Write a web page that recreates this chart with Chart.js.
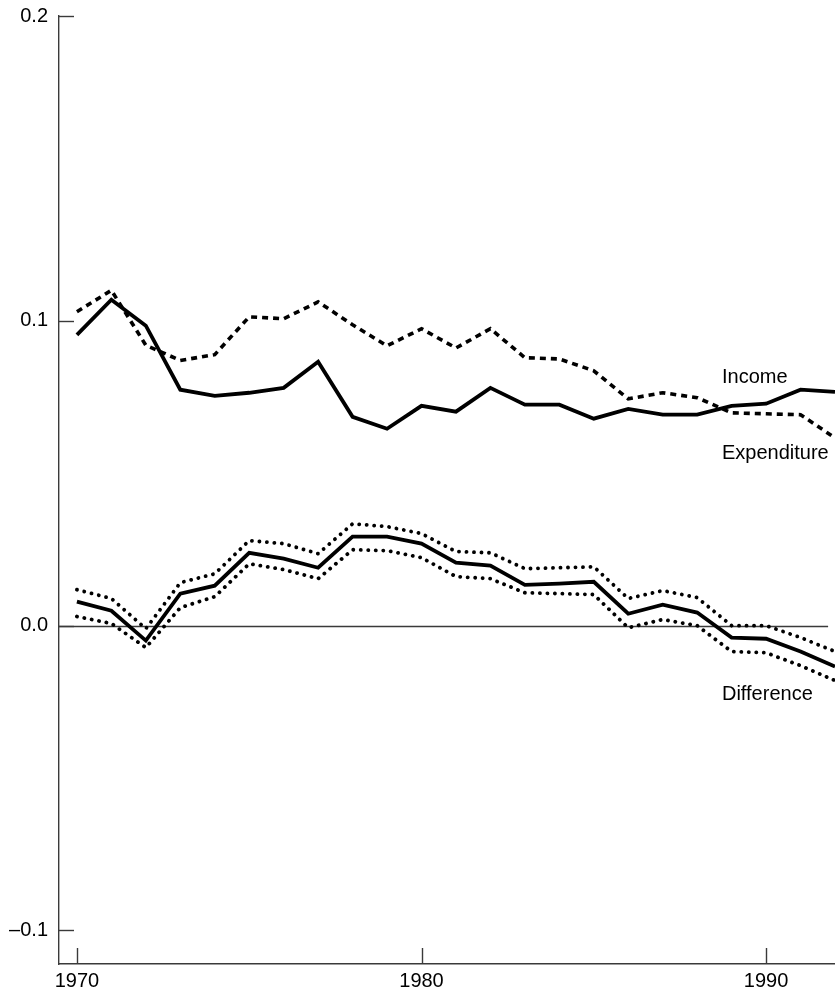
<!DOCTYPE html>
<html>
<head>
<meta charset="utf-8">
<title>Income and expenditure</title>
<script src="https://cdn.jsdelivr.net/npm/chart.js@4/dist/chart.umd.min.js"></script>
<style>
    html, body { margin: 0; padding: 0; background: #fff; }
    #wrap { width: 835px; height: 991px; }
</style>
</head>
<body>
<div id="wrap"><canvas id="chart"></canvas></div>
<script>
/**
 * Data
 */
const years = [1970, 1971, 1972, 1973, 1974, 1975, 1976, 1977, 1978, 1979, 1980,
    1981, 1982, 1983, 1984, 1985, 1986, 1987, 1988, 1989, 1990, 1991, 1992];

const income = [0.0954, 0.1069, 0.0984, 0.0774, 0.0754, 0.0764, 0.0780, 0.0866, 0.0685, 0.0646, 0.0721,
    0.0702, 0.0780, 0.0725, 0.0725, 0.0679, 0.0711, 0.0692, 0.0692, 0.0721, 0.0728, 0.0774, 0.0767];

const expenditure = [0.1030, 0.1100, 0.0920, 0.0870, 0.0889, 0.1013, 0.1007, 0.1062, 0.0987, 0.0918, 0.0974,
    0.0911, 0.0974, 0.0879, 0.0875, 0.0836, 0.0744, 0.0764, 0.0748, 0.0698, 0.0695, 0.0692, 0.0616];

const difference = [0.0079, 0.0049, -0.0049, 0.0105, 0.0131, 0.0239, 0.0220, 0.0190, 0.0292, 0.0292, 0.0269,
    0.0207, 0.0197, 0.0134, 0.0138, 0.0144, 0.0039, 0.0069, 0.0043, -0.0039, -0.0043, -0.0085, -0.0134];

const differenceUpper = [0.0118, 0.0089, -0.0010, 0.0141, 0.0170, 0.0279, 0.0269, 0.0236, 0.0334, 0.0325, 0.0302,
    0.0243, 0.0239, 0.0187, 0.0190, 0.0193, 0.0089, 0.0115, 0.0092, 0.0000, 0.0000, -0.0039, -0.0085];

const differenceLower = [0.0030, 0.0007, -0.0072, 0.0059, 0.0095, 0.0203, 0.0184, 0.0154, 0.0249, 0.0246, 0.0223,
    0.0161, 0.0154, 0.0108, 0.0105, 0.0102, -0.0007, 0.0020, 0.0000, -0.0085, -0.0089, -0.0131, -0.0180];

const xTicks = [1970, 1980, 1990];
const yTicks = [-0.1, 0.0, 0.1, 0.2];

// line labels: [text, year, value]
const seriesLabels = [
    ['Income', 1988.72, 0.0797],
    ['Expenditure', 1988.72, 0.0548],
    ['Difference', 1988.72, -0.0245]
];

const FONT = '"Liberation Sans", Arial, Helvetica, sans-serif';
const INK = '#000';
const AXIS = '#3a3a3a';

function points(values) {
    return years.map(function (y, i) { return {x: y, y: values[i]}; });
}

/**
 * Inward ticks, zero line and line labels
 */
const extras = {
    id: 'extras',
    beforeDatasetsDraw(chart) {
        const ctx = chart.ctx;
        const xs = chart.scales.x;
        const ys = chart.scales.y;
        const area = chart.chartArea;

        ctx.save();
        ctx.strokeStyle = AXIS;
        ctx.lineWidth = 1.4;

        // zero line
        let y0 = Math.round(ys.getPixelForValue(0)) + 0.5;
        ctx.beginPath();
        ctx.moveTo(area.left, y0);
        ctx.lineTo(xs.getPixelForValue(1991.8), y0);
        ctx.stroke();

        // y ticks pointing right
        yTicks.forEach(function (v) {
            let py = Math.round(ys.getPixelForValue(v)) + 0.5;
            ctx.beginPath();
            ctx.moveTo(area.left, py);
            ctx.lineTo(area.left + 15, py);
            ctx.stroke();
        });

        // x ticks pointing up
        xTicks.forEach(function (v) {
            let px = Math.round(xs.getPixelForValue(v)) + 0.5;
            ctx.beginPath();
            ctx.moveTo(px, area.bottom);
            ctx.lineTo(px, area.bottom - 16);
            ctx.stroke();
        });
        ctx.restore();
    },
    afterDatasetsDraw(chart) {
        const ctx = chart.ctx;
        const xs = chart.scales.x;
        const ys = chart.scales.y;

        ctx.save();
        ctx.fillStyle = INK;
        ctx.font = '20px ' + FONT;
        ctx.textAlign = 'left';
        ctx.textBaseline = 'alphabetic';
        seriesLabels.forEach(function (l) {
            ctx.fillText(l[0], xs.getPixelForValue(l[1]), ys.getPixelForValue(l[2]));
        });
        ctx.restore();
    }
};

function lineSet(label, values, style) {
    let set = {
        label: label,
        data: points(values),
        borderColor: INK,
        borderWidth: 3.8,
        pointRadius: 0,
        tension: 0,
        fill: false,
        borderJoinStyle: 'miter',
        borderCapStyle: 'butt'
    };
    if (style === 'dash') {
        set.borderDash = [6, 5];
        set.borderWidth = 3.6;
    }
    if (style === 'dot') {
        set.borderDash = [0.1, 7.4];
        set.borderCapStyle = 'round';
        set.borderJoinStyle = 'round';
        set.borderWidth = 3.8;
    }
    return set;
}

const config = {
    type: 'line',
    data: {
        datasets: [
            lineSet('Expenditure', expenditure, 'dash'),
            lineSet('Income', income, 'solid'),
            lineSet('Upper', differenceUpper, 'dot'),
            lineSet('Lower', differenceLower, 'dot'),
            lineSet('Difference', difference, 'solid')
        ]
    },
    options: {
        responsive: true,
        maintainAspectRatio: false,
        animation: false,
        layout: { padding: { top: 16, right: 0, bottom: 0, left: 0 } },
        plugins: {
            legend: { display: false },
            tooltip: { enabled: false }
        },
        scales: {
            x: {
                type: 'linear',
                min: 1969.48,
                max: 1992,
                afterFit: function (scale) {
                    scale.height = 27;
                    scale.paddingLeft = 0;
                    scale.paddingRight = 0;
                },
                afterBuildTicks: function (scale) {
                    scale.ticks = xTicks.map(function (v) { return {value: v}; });
                },
                grid: { display: false, drawTicks: false },
                border: { display: true, color: AXIS, width: 1.4 },
                ticks: {
                    padding: 5,
                    maxRotation: 0,
                    autoSkip: false,
                    color: INK,
                    font: { family: FONT, size: 20 },
                    callback: function (v) { return String(v); }
                }
            },
            y: {
                type: 'linear',
                min: -0.111,
                max: 0.2,
                afterFit: function (scale) {
                    scale.width = 59;
                    scale.paddingTop = 0;
                    scale.paddingBottom = 0;
                },
                afterBuildTicks: function (scale) {
                    scale.ticks = yTicks.map(function (v) { return {value: v}; });
                },
                grid: { display: false, drawTicks: false },
                border: { display: true, color: AXIS, width: 1.4 },
                ticks: {
                    padding: 11,
                    color: INK,
                    font: { family: FONT, size: 20 },
                    callback: function (v) { return v.toFixed(1).replace('-', '\u2013'); }
                }
            }
        }
    },
    plugins: [extras]
};

new Chart(document.getElementById('chart'), config);
</script>
</body>
</html>
